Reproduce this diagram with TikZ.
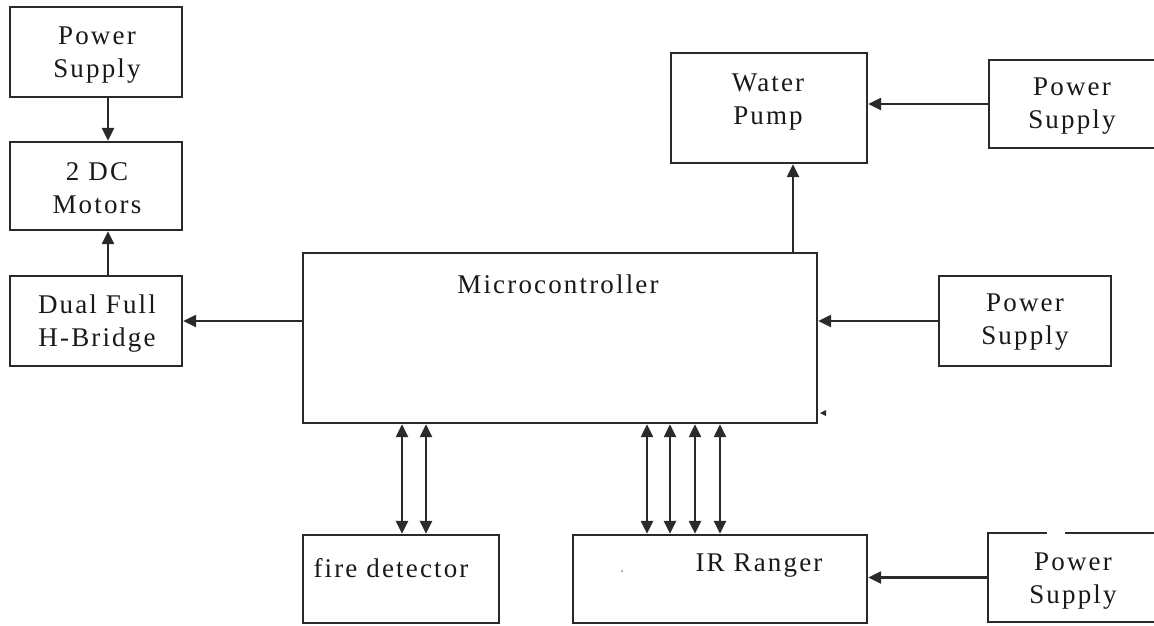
\documentclass[tikz,border=0pt]{standalone}
\usepackage{fontspec}
\setmainfont{Liberation Serif}[LetterSpace=8]
\usetikzlibrary{arrows.meta,calc}
\definecolor{ln}{HTML}{2A2A2A}
\begin{document}
\begin{tikzpicture}[x=1pt,y=-1pt,
  box/.style={draw=ln,line width=2.4pt,rectangle,inner sep=0pt},
  txt/.style={align=center,inner sep=0pt,font=\fontsize{27}{33}\selectfont,text=black!90},
  arr/.style={draw=ln,line width=2.4pt,-{Triangle[length=13pt,width=12pt]}},
  biarr/.style={draw=ln,line width=2.4pt,{Triangle[length=13pt,width=12pt]}-{Triangle[length=13pt,width=12pt]}}]
\clip (0,0) rectangle (1154,625);
\fill[white] (0,0) rectangle (1154,625);
% boxes
\node[box,minimum width=172pt,minimum height=90pt] (ps1) at (96,52) {};
\node[box,minimum width=172pt,minimum height=88pt] (motors) at (96,186) {};
\node[box,minimum width=172pt,minimum height=90pt] (hbridge) at (96,321) {};
\node[box,minimum width=514pt,minimum height=170pt] (mcu) at (560,338) {};
\node[box,minimum width=196pt,minimum height=110pt] (pump) at (769,108) {};
\node[box,minimum width=181pt,minimum height=88pt] (ps2) at (1079.5,104) {};
\node[box,minimum width=172pt,minimum height=90pt] (ps3) at (1025,321) {};
\node[box,minimum width=196pt,minimum height=88pt] (fire) at (401,579) {};
\node[box,minimum width=294pt,minimum height=88pt] (ir) at (720,579) {};
\node[box,minimum width=182pt,minimum height=89pt] (ps4) at (1079,577.5) {};
% gap in top border of lower right power supply
\draw[white,line width=4pt] (1047,533) -- (1065,533);
% texts
\node[txt] (tps1) at (97,55) {Power\\Supply};
\node[txt] (tmotors) at (97,188) {2 DC\\Motors};
\node[txt] (thbridge) at (97,324) {Dual Full\\H-Bridge};
\node[txt] (tmcu) at (558,284) {Microcontroller};
\node[txt] (tpump) at (768,102) {Water\\Pump};
\node[txt] (tps2) at (1072,106) {Power\\Supply};
\node[txt] (tps3) at (1025,322) {Power\\Supply};
\node[txt] (tfire) at (391,568) {fire detector};
\node[txt] (tir) at (759,566) {IR Ranger};
\node[txt] (tps4) at (1073,581) {Power\\Supply};
% connectors
\coordinate (xa) at (108,0);
\coordinate (xp) at (793,0);
\draw[arr] (ps1.south -| xa) -- (motors.north -| xa);
\draw[arr] (hbridge.north -| xa) -- (motors.south -| xa);
\draw[arr] (mcu.west |- hbridge.east) -- (hbridge.east);
\draw[arr] (mcu.north -| xp) -- (pump.south -| xp);
\draw[arr] (ps2.west) -- (pump.east |- ps2.west);
\draw[arr] (ps3.west) -- (mcu.east |- ps3.west);
\draw[arr] (ps4.west) -- (ir.east |- ps4.west);
\foreach \x [count=\i] in {402,426} {
  \coordinate (f\i) at (\x,0);
  \draw[biarr] (mcu.south -| f\i) -- (fire.north -| f\i);
}
\foreach \x [count=\i] in {647,670,695,720} {
  \coordinate (r\i) at (\x,0);
  \draw[biarr] (mcu.south -| r\i) -- (ir.north -| r\i);
}
% small marks
\fill[ln] (820,413) -- (826,410) -- (826,416) -- cycle;
\fill[gray] (622,571) circle (1pt);
\end{tikzpicture}
\end{document}
